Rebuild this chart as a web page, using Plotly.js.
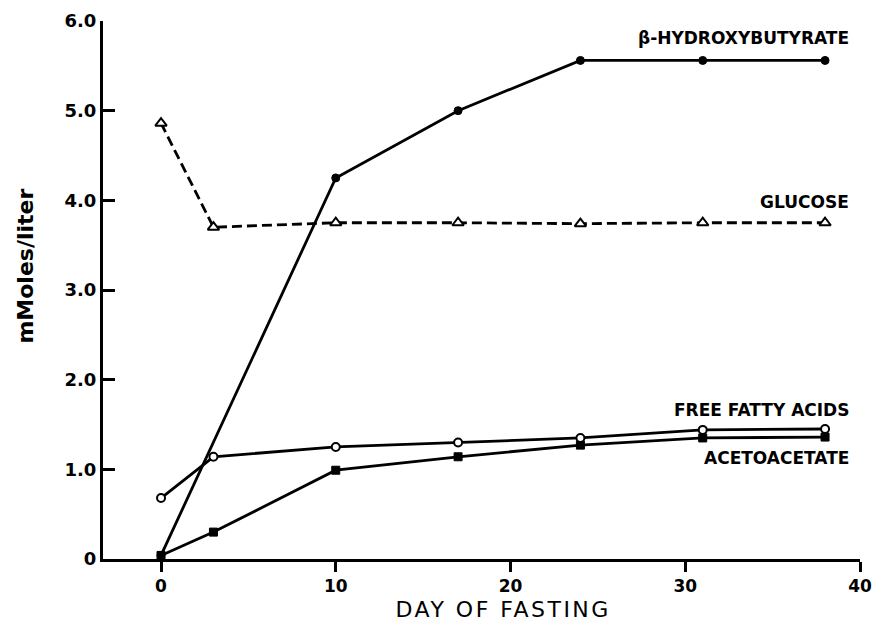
<!DOCTYPE html>
<html>
<head>
<meta charset="utf-8">
<script src="https://cdn.plot.ly/plotly-3.0.1.min.js"></script>
<style>
  html, body { margin: 0; padding: 0; background: #fff; }
  #chart { width: 874px; height: 626px; }
  g.annotation[data-index="0"] text { letter-spacing: 2.5px; }
</style>
</head>
<body>
<div id="chart"></div>
<script>
// Data
const days = [0, 3, 10, 17, 24, 31, 38];
const betaDays = [0, 10, 17, 24, 31, 38];
const betaHydroxybutyrate = [0.04, 4.25, 5.0, 5.56, 5.56, 5.56];
const glucose = [4.86, 3.70, 3.75, 3.75, 3.74, 3.75, 3.75];
const freeFattyAcids = [0.68, 1.14, 1.25, 1.30, 1.35, 1.44, 1.45];
const acetoacetate = [0.04, 0.30, 0.99, 1.14, 1.27, 1.35, 1.36];

const yTickVals = [0, 1, 2, 3, 4, 5, 6];
const yTickText = ['0', '1.0', '2.0', '3.0', '4.0', '5.0', '6.0'];
const xTickVals = [0, 10, 20, 30, 40];
const xTickText = ['0', '10', '20', '30', '40'];

const seriesLabels = ['\u03B2-HYDROXYBUTYRATE', 'GLUCOSE', 'FREE FATTY ACIDS', 'ACETOACETATE'];
const labelY = [5.81, 3.98, 1.66, 1.13];

const black = '#000';
const traces = [
  {
    x: days, y: acetoacetate, mode: 'lines+markers', name: 'Acetoacetate',
    line: {color: black, width: 2.8},
    marker: {symbol: 'square', size: 8, color: black, line: {color: black, width: 1}}
  },
  {
    x: days, y: freeFattyAcids, mode: 'lines+markers', name: 'Free fatty acids',
    line: {color: black, width: 2.8},
    marker: {symbol: 'circle', size: 8, color: '#fff', line: {color: black, width: 2}}
  },
  {
    x: days, y: glucose, mode: 'lines+markers', name: 'Glucose',
    line: {color: black, width: 2.8, dash: '10px,5px'},
    marker: {symbol: 'triangle-up', size: 10, color: '#fff', line: {color: black, width: 2}}
  },
  {
    x: betaDays, y: betaHydroxybutyrate, mode: 'lines+markers', name: '\u03B2-Hydroxybutyrate',
    line: {color: black, width: 2.8},
    marker: {symbol: 'circle', size: 8, color: black, line: {color: black, width: 1}}
  }
];

const tickFontY = {family: 'DejaVu Sans', size: 18, color: black, weight: 'bold'};
const tickFontX = {family: 'DejaVu Sans', size: 17, color: black, weight: 'bold'};

const annotations = [
  {
    text: 'DAY OF FASTING', xref: 'paper', yref: 'paper', x: 0.528, y: -0.093,
    xanchor: 'center', yanchor: 'middle', showarrow: false,
    font: {family: 'DejaVu Sans', size: 22, color: black}
  },
  {
    text: 'mMoles/liter', xref: 'paper', yref: 'paper', x: -0.102, y: 0.545,
    xanchor: 'center', yanchor: 'middle', showarrow: false, textangle: -90,
    font: {family: 'DejaVu Sans', size: 22, color: black, weight: 'bold'}
  }
];
seriesLabels.forEach((t, i) => {
  annotations.push({
    text: t, xref: 'paper', yref: 'y', x: 0.988, y: labelY[i],
    xanchor: 'right', yanchor: 'middle', showarrow: false,
    font: {family: 'DejaVu Sans', size: 17, color: black, weight: 'bold'}
  });
});

const layout = {
  width: 874, height: 626,
  margin: {l: 103, r: 14, t: 21, b: 67},
  paper_bgcolor: '#fff', plot_bgcolor: '#fff',
  showlegend: false,
  xaxis: {
    range: [-3.32, 40], tickvals: xTickVals, ticktext: xTickText,
    showgrid: false, zeroline: false, showline: true, linecolor: black, linewidth: 3,
    ticks: 'outside', ticklen: 10, tickwidth: 3, tickcolor: black,
    tickfont: tickFontX
  },
  yaxis: {
    range: [0, 6], tickvals: yTickVals, ticktext: yTickText,
    showgrid: false, zeroline: false, showline: true, linecolor: black, linewidth: 3,
    ticks: 'inside', ticklen: 12, tickwidth: 3, tickcolor: black,
    tickfont: tickFontY
  },
  annotations: annotations
};

Plotly.newPlot('chart', traces, layout, {displayModeBar: false, staticPlot: true});
</script>
</body>
</html>
